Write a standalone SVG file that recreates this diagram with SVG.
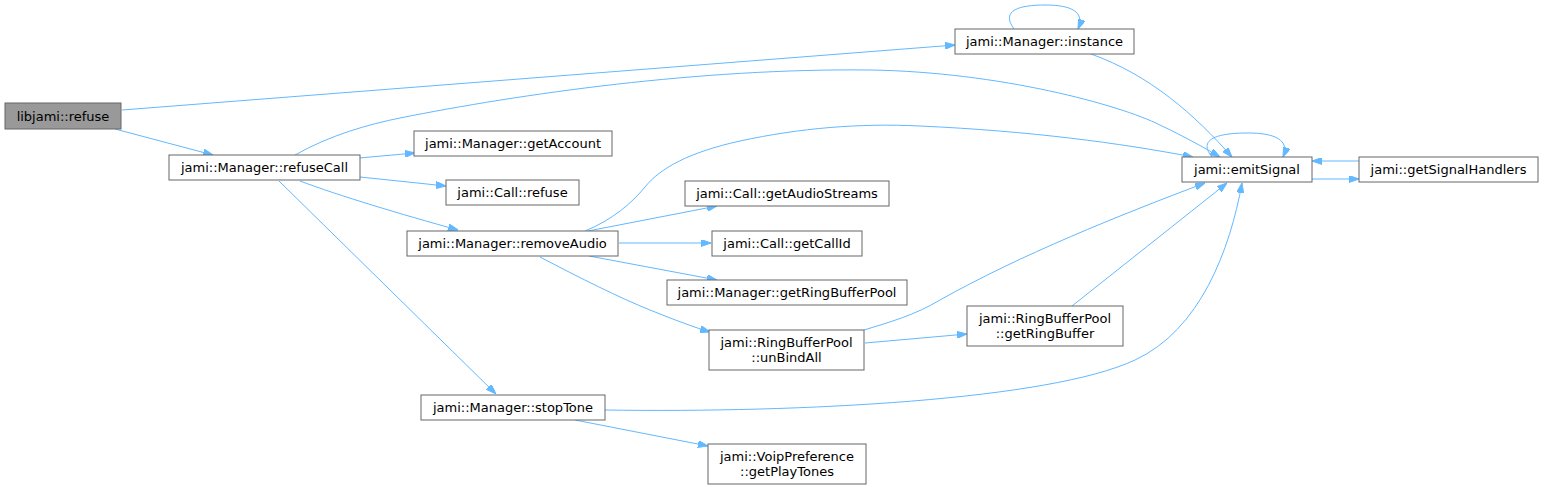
<svg xmlns="http://www.w3.org/2000/svg" width="1544" height="490" viewBox="0 0 1544 490">
<style>
.n rect{fill:#ffffff;stroke:#666666;stroke-width:1}
.g rect{fill:#999999;stroke:#666666;stroke-width:1}
text{font-family:"DejaVu Sans","Liberation Sans",sans-serif;font-size:13px;fill:#000000;text-anchor:middle}
.e path{fill:none;stroke:#63b8ff;stroke-width:1;marker-end:url(#a)}
</style>
<defs>
<marker id="a" markerWidth="10" markerHeight="7" refX="10" refY="3.5" orient="auto" markerUnits="userSpaceOnUse">
<path d="M0,0L10,3.5L0,7z" fill="#63b8ff" stroke="#63b8ff" stroke-width="1"/>
</marker>
</defs>
<rect width="1544" height="490" fill="#ffffff"/>
<g id="edges" class="e">
<path d="M122,110 L955,45"/>
<path d="M115,129 L213,155"/>
<path d="M295,155 C330,135 370,124 400,118 C520,94 700,68 870,70 C1000,72 1120,105 1160,125 C1185,137 1205,148 1220,157"/>
<path d="M359,158 L415,153"/>
<path d="M360,177 L446,186"/>
<path d="M300,181 C340,196 400,214 458,230"/>
<path d="M279,181 L496,394"/>
<path d="M585,231 C612,220 632,203 645,187 C660,168 690,152 740,141 C800,128 860,123 920,126 C1030,131 1120,143 1193,157"/>
<path d="M588,231 L717,206"/>
<path d="M619,243 L711,243"/>
<path d="M589,256 L717,280"/>
<path d="M540,257 C580,278 620,298 650,310 C670,318 690,326 710,332"/>
<path d="M864,330 C890,322 915,315 940,300 C1020,255 1120,215 1205,183"/>
<path d="M865,343 L967,334"/>
<path d="M1072,306 L1227,183"/>
<path d="M605,410 C800,413 1050,400 1135,360 C1200,330 1230,250 1242,183"/>
<path d="M575,420 L708,446"/>
<path d="M1014,29 C1000,10 1020,5 1045,5 C1072,5 1085,12 1078,29"/>
<path d="M1091,54 C1150,75 1195,115 1232,157"/>
<path d="M1212,157 C1198,140 1215,133 1248,133 C1275,133 1290,140 1283,157"/>
<path d="M1312,179 L1359,179"/>
<path d="M1359,161 L1312,161"/>
</g>
<g id="n_libjami_refuse" class="g"><rect x="5" y="103" width="116" height="26"/><text x="63" y="120.5">libjami::refuse</text></g>
<g id="n_refuseCall" class="n"><rect x="169" y="155" width="191" height="25"/><text x="264.5" y="172">jami::Manager::refuseCall</text></g>
<g id="n_getAccount" class="n"><rect x="414" y="131" width="198" height="25"/><text x="513" y="148">jami::Manager::getAccount</text></g>
<g id="n_call_refuse" class="n"><rect x="446" y="180" width="133" height="25"/><text x="512.5" y="197">jami::Call::refuse</text></g>
<g id="n_removeAudio" class="n"><rect x="407" y="231" width="211" height="25"/><text x="512.5" y="248">jami::Manager::removeAudio</text></g>
<g id="n_stopTone" class="n"><rect x="421" y="395" width="184" height="25"/><text x="513" y="412">jami::Manager::stopTone</text></g>
<g id="n_getAudioStreams" class="n"><rect x="685" y="181" width="204" height="25"/><text x="787" y="198">jami::Call::getAudioStreams</text></g>
<g id="n_getCallId" class="n"><rect x="712" y="231" width="150" height="25"/><text x="787" y="248">jami::Call::getCallId</text></g>
<g id="n_getRingBufferPool" class="n"><rect x="667" y="280" width="240" height="25"/><text x="787" y="297">jami::Manager::getRingBufferPool</text></g>
<g id="n_unBindAll" class="n"><rect x="709" y="330" width="155" height="40"/><text x="786.5" y="346.5">jami::RingBufferPool</text><text x="786.5" y="361.5">::unBindAll</text></g>
<g id="n_getPlayTones" class="n"><rect x="708" y="444" width="158" height="40"/><text x="787" y="460.5">jami::VoipPreference</text><text x="787" y="475.5">::getPlayTones</text></g>
<g id="n_getRingBuffer" class="n"><rect x="967" y="306" width="156" height="40"/><text x="1045" y="322.5">jami::RingBufferPool</text><text x="1045" y="337.5">::getRingBuffer</text></g>
<g id="n_instance" class="n"><rect x="955" y="29" width="179" height="25"/><text x="1044.5" y="46">jami::Manager::instance</text></g>
<g id="n_emitSignal" class="n"><rect x="1182" y="157" width="130" height="25"/><text x="1247" y="174">jami::emitSignal</text></g>
<g id="n_getSignalHandlers" class="n"><rect x="1359" y="157" width="179" height="25"/><text x="1448.5" y="174">jami::getSignalHandlers</text></g>
</svg>
